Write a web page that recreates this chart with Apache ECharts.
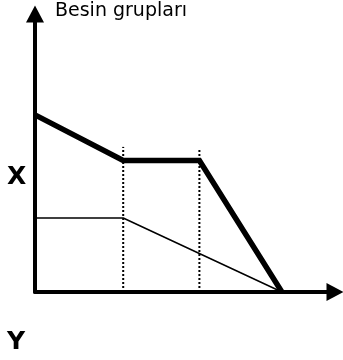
<!DOCTYPE html>
<html>
<head>
<meta charset="utf-8">
<script src="https://cdn.jsdelivr.net/npm/echarts@6/dist/echarts.min.js"></script>
<style>
  html, body { margin: 0; padding: 0; background: #fff; }
  #main { width: 343px; height: 360px; }
</style>
</head>
<body>
<div id="main"></div>
<script>
// break points along the horizontal axis (arbitrary units)
const breakX = [0, 2.94, 5.48, 8.23];
// upper (thick) curve
const upperY = [6.37, 4.73, 4.73, 0];
// lower (thin) curve: flat then falls to the same end point
const lowerX = [0, 2.94, 8.23];
const lowerY = [2.66, 2.66, 0];
// tops of the dotted guide lines
const guideX = [2.94, 5.48];
const guideTop = [5.22, 5.11];

const axisName = 'Besin grupları';
const labelX = 'X';
const labelY = 'Y';

const myChart = echarts.init(document.getElementById('main'));

const upper = breakX.map((x, i) => [x, upperY[i]]);
const lower = lowerX.map((x, i) => [x, lowerY[i]]);

const guides = guideX.map((x, i) => ({
  type: 'line',
  data: [[x, 0], [x, guideTop[i]]],
  symbol: 'none',
  silent: true,
  z: 1,
  lineStyle: { color: '#000', width: 2, type: [2, 2] }
}));

// shared look for both axes: heavy black line ending in a solid arrow head
function axisStyle() {
  return {
    type: 'value',
    min: 0,
    max: 10,
    axisLine: {
      show: true,
      lineStyle: { color: '#000', width: 4 },
      symbol: ['none', 'triangle'],
      symbolSize: [18, 17]
    },
    axisTick: { show: false },
    axisLabel: { show: false },
    splitLine: { show: false }
  };
}

function label(text, left, top, size, weight) {
  return {
    text: text,
    left: left,
    top: top,
    padding: 0,
    textStyle: { fontSize: size, fontWeight: weight, fontFamily: 'DejaVu Sans', color: '#000' }
  };
}

const options = {
  animation: false,
  backgroundColor: '#fff',
  title: [
    label(axisName, 55, 2, 19, 'normal'),
    label(labelX, 7, 165, 25, 'bold'),
    label(labelY, 7, 330, 25, 'bold')
  ],
  grid: { left: 35, right: 8, top: 14, bottom: 68 },
  xAxis: axisStyle(),
  yAxis: axisStyle(),
  series: [
    ...guides,
    {
      type: 'line',
      data: lower,
      symbol: 'none',
      z: 2,
      lineStyle: { color: '#000', width: 1.5 }
    },
    {
      type: 'line',
      data: upper,
      symbol: 'none',
      z: 3,
      lineStyle: { color: '#000', width: 5.5, join: 'miter' }
    }
  ]
};

myChart.setOption(options);
</script>
</body>
</html>
